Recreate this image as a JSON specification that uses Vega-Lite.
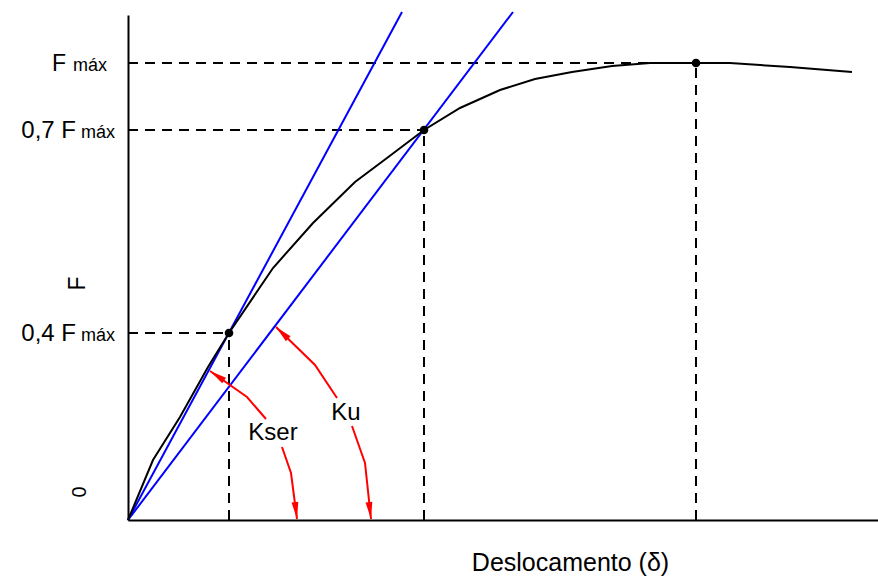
{
  "$schema": "https://vega.github.io/schema/vega-lite/v6.json",
  "width": 750,
  "height": 505,
  "autosize": "none",
  "padding": {"left": 128, "top": 15, "right": 0, "bottom": 57},
  "background": "white",
  "config": {
    "view": {"stroke": null},
    "font": "Liberation Sans",
    "text": {"font": "Liberation Sans", "color": "black"}
  },
  "datasets": {
    "dashes": [
      {"x": 0, "y": 457, "x2": 568, "y2": 457},
      {"x": 0, "y": 390, "x2": 296, "y2": 390},
      {"x": 0, "y": 187, "x2": 101, "y2": 187},
      {"x": 568, "y": 0, "x2": 568, "y2": 457},
      {"x": 296, "y": 0, "x2": 296, "y2": 390},
      {"x": 101, "y": 0, "x2": 101, "y2": 187}
    ],
    "blue": [
      {"series": "Kser", "x": 0, "y": 0},
      {"series": "Kser", "x": 274, "y": 508},
      {"series": "Ku", "x": 0, "y": 0},
      {"series": "Ku", "x": 385, "y": 508}
    ],
    "curve": [
      {"x": 0, "y": 0}, {"x": 25, "y": 60}, {"x": 52, "y": 103}, {"x": 80, "y": 153},
      {"x": 101, "y": 187}, {"x": 145, "y": 252}, {"x": 185, "y": 297}, {"x": 227, "y": 338},
      {"x": 259, "y": 362}, {"x": 296, "y": 390}, {"x": 332, "y": 412}, {"x": 372, "y": 430},
      {"x": 407, "y": 441}, {"x": 444, "y": 448}, {"x": 484, "y": 454}, {"x": 522, "y": 457},
      {"x": 568, "y": 457}, {"x": 602, "y": 457}, {"x": 662, "y": 453}, {"x": 724, "y": 448}
    ],
    "pts": [
      {"x": 101, "y": 187}, {"x": 296, "y": 390}, {"x": 568, "y": 457}
    ],
    "arrows": [
      {"arrow": "kser1", "i": 0, "x": 138, "y": 101},
      {"arrow": "kser1", "i": 1, "x": 119, "y": 123},
      {"arrow": "kser1", "i": 2, "x": 82, "y": 149},
      {"arrow": "kser2", "i": 0, "x": 154, "y": 73},
      {"arrow": "kser2", "i": 1, "x": 163, "y": 47},
      {"arrow": "kser2", "i": 2, "x": 169, "y": 1},
      {"arrow": "ku1", "i": 0, "x": 209, "y": 122},
      {"arrow": "ku1", "i": 1, "x": 187, "y": 155},
      {"arrow": "ku1", "i": 2, "x": 148, "y": 193},
      {"arrow": "ku2", "i": 0, "x": 224, "y": 94},
      {"arrow": "ku2", "i": 1, "x": 237, "y": 57},
      {"arrow": "ku2", "i": 2, "x": 243, "y": 1}
    ],
    "klabels": [
      {"t": "Kser", "x": 145, "y": 87},
      {"t": "Ku", "x": 218, "y": 107}
    ],
    "ylabels": [
      {"x": 0, "y": 457, "lead": "F", "level": "max"},
      {"x": 0, "y": 390, "lead": "0,7 F", "level": "frac"},
      {"x": 0, "y": 187, "lead": "0,4 F", "level": "frac"}
    ],
    "zero": [
      {"x": -48, "y": 28, "t": "0"}
    ]
  },
  "encoding": {
    "x": {
      "field": "x", "type": "quantitative",
      "scale": {"domain": [0, 750], "nice": false},
      "axis": {
        "title": "Deslocamento (δ)", "ticks": false, "labels": false, "grid": false,
        "domainColor": "black", "domainWidth": 2,
        "titleFont": "Liberation Sans", "titleFontSize": 25, "titleFontWeight": "normal", "titleColor": "black",
        "titleX": 442, "titleY": 50, "titleAlign": "center", "titleBaseline": "alphabetic"
      }
    },
    "y": {
      "field": "y", "type": "quantitative",
      "scale": {"domain": [0, 505], "nice": false},
      "axis": {
        "title": "F", "ticks": false, "labels": false, "grid": false,
        "domainColor": "black", "domainWidth": 2,
        "titleFont": "Liberation Sans", "titleFontSize": 23, "titleFontWeight": "normal", "titleColor": "black",
        "titleAngle": 270, "titleX": -51, "titleY": 268, "titleAlign": "center", "titleBaseline": "middle"
      }
    }
  },
  "layer": [
    {
      "data": {"name": "dashes"},
      "mark": {"type": "rule", "color": "black", "strokeWidth": 2, "strokeDash": [10, 7]},
      "encoding": {"x2": {"field": "x2"}, "y2": {"field": "y2"}}
    },
    {
      "data": {"name": "blue"},
      "mark": {"type": "line", "color": "#0000FF", "strokeWidth": 2, "clip": false},
      "encoding": {"detail": {"field": "series"}}
    },
    {
      "data": {"name": "curve"},
      "mark": {"type": "line", "color": "black", "strokeWidth": 2},
      "encoding": {}
    },
    {
      "data": {"name": "pts"},
      "mark": {"type": "point", "shape": "circle", "filled": true, "color": "black", "size": 75, "opacity": 1}
    },
    {
      "data": {"name": "arrows"},
      "mark": {"type": "line", "color": "#FF0000", "strokeWidth": 2},
      "encoding": {"detail": {"field": "arrow"}, "order": {"field": "i"}}
    },
    {
      "data": {"name": "arrows"},
      "transform": [{"filter": "datum.arrow === 'kser1' && datum.i === 2"}],
      "mark": {"type": "point", "shape": "M0,0L0.4,2L-0.4,2Z", "filled": true, "color": "#FF0000", "opacity": 1, "size": 289, "angle": -56, "strokeWidth": 0}
    },
    {
      "data": {"name": "arrows"},
      "transform": [{"filter": "datum.arrow === 'ku1' && datum.i === 2"}],
      "mark": {"type": "point", "shape": "M0,0L0.4,2L-0.4,2Z", "filled": true, "color": "#FF0000", "opacity": 1, "size": 289, "angle": -46, "strokeWidth": 0}
    },
    {
      "data": {"name": "arrows"},
      "transform": [{"filter": "(datum.arrow === 'kser2' || datum.arrow === 'ku2') && datum.i === 2"}],
      "mark": {"type": "point", "shape": "M0,0L0.4,2L-0.4,2Z", "filled": true, "color": "#FF0000", "opacity": 1, "size": 289, "angle": 173, "strokeWidth": 0}
    },
    {
      "data": {"name": "klabels"},
      "mark": {"type": "text", "fontSize": 24, "align": "center", "baseline": "middle"},
      "encoding": {"text": {"field": "t"}}
    },
    {
      "data": {"name": "ylabels"},
      "transform": [{"filter": "datum.level === 'max'"}],
      "mark": {"type": "text", "fontSize": 23, "align": "right", "baseline": "alphabetic", "dx": -62, "dy": 8},
      "encoding": {"text": {"field": "lead"}}
    },
    {
      "data": {"name": "ylabels"},
      "transform": [{"filter": "datum.level === 'max'"}],
      "mark": {"type": "text", "fontSize": 18, "align": "right", "baseline": "alphabetic", "dx": -21, "dy": 8},
      "encoding": {"text": {"value": "máx"}}
    },
    {
      "data": {"name": "ylabels"},
      "transform": [{"filter": "datum.level === 'frac'"}],
      "mark": {"type": "text", "fontSize": 24, "align": "right", "baseline": "alphabetic", "dx": -52, "dy": 8},
      "encoding": {"text": {"field": "lead"}}
    },
    {
      "data": {"name": "ylabels"},
      "transform": [{"filter": "datum.level === 'frac'"}],
      "mark": {"type": "text", "fontSize": 18, "align": "right", "baseline": "alphabetic", "dx": -13, "dy": 8},
      "encoding": {"text": {"value": "máx"}}
    },
    {
      "data": {"name": "zero"},
      "mark": {"type": "text", "fontSize": 20, "align": "center", "baseline": "middle", "angle": 270},
      "encoding": {"text": {"field": "t"}}
    }
  ]
}
